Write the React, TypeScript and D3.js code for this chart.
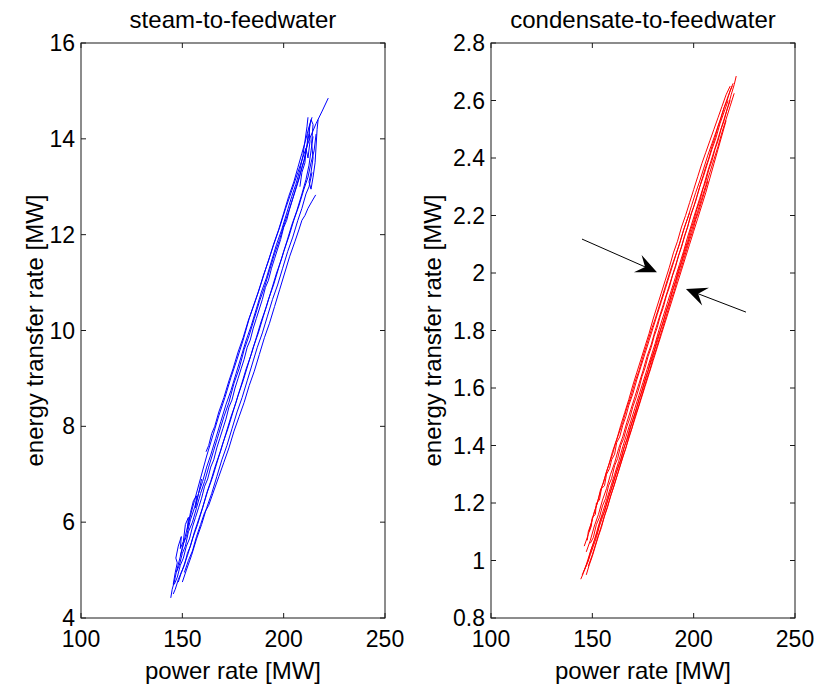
import React from "react";
import * as d3 from "d3";

type Pt = [number, number];

const xTicks = [100, 150, 200, 250];
const steamYTicks = [4, 6, 8, 10, 12, 14, 16];
const condYTicks = [0.8, 1, 1.2, 1.4, 1.6, 1.8, 2, 2.2, 2.4, 2.6, 2.8];

const steamTitle = "steam-to-feedwater";
const condTitle = "condensate-to-feedwater";
const xLabel = "power rate [MW]";
const yLabel = "energy transfer rate [MW]";

// steam-to-feedwater traces: [power MW, energy MW]
const steamTraces: Pt[][] = [
  [[147,4.95],[150,5.45],[153,5.98],[156,6.45],[159,6.92],[162,7.38],[165,7.8],[168,8.22],[171,8.6],[174,9.02],[177,9.4],[180,9.8],[183,10.25],[186,10.62],[189,11.0],[192,11.4],[195,11.78],[198,12.15],[201,12.55],[204,12.92],[207,13.3],[210,13.68],[213,14.02],[216,14.32],[219,14.58],[222,14.85]],
  [[161.7,7.47],[163,7.6],[164.5,7.85],[166,8.0],[168,8.3],[170.5,8.6],[173,8.95],[175,9.2],[177.5,9.55],[180,9.85],[182.5,10.2],[185,10.5],[187.5,10.8],[190,11.15],[192.5,11.45],[195,11.8],[197.5,12.1],[200,12.45],[202.5,12.8],[205,13.1],[207,13.4],[209,13.7],[211,14.0],[212.5,14.25],[214,14.45]],
  [[144.3,4.42],[145,4.6],[146,4.75],[147,4.95],[148.5,5.1],[150,5.35],[151.5,5.5],[153,5.8],[155,6.0],[157,6.3],[159,6.6],[161,6.85],[163,7.15],[165.5,7.5],[168,7.85],[170.5,8.2],[173,8.5],[175.5,8.9],[178,9.2],[180.5,9.6],[183,9.9],[185.5,10.25],[188,10.6],[190.5,10.9],[193,11.25],[195.5,11.6],[198,11.9],[200.5,12.25],[203,12.55],[205.5,12.9],[208,13.25],[210,13.55],[211.5,13.85],[212.5,14.1],[213,14.3]],
  [[148,4.75],[149.5,4.95],[151,5.1],[152.5,5.35],[154,5.5],[156,5.8],[158,6.05],[160,6.3],[162,6.6],[164,6.85],[166.5,7.2],[169,7.5],[171.5,7.85],[174,8.2],[176.5,8.5],[179,8.85],[181.5,9.2],[184,9.5],[186.5,9.85],[189,10.2],[191.5,10.5],[194,10.85],[196.5,11.2],[199,11.5],[201.5,11.85],[204,12.2],[206.5,12.5],[209,12.85],[211,13.15],[212.5,13.45],[213.5,13.75],[214.5,14.05]],
  [[151,4.95],[153,5.2],[155,5.4],[157,5.7],[159,5.95],[161,6.2],[163,6.35],[165.5,6.65],[168,6.95],[170.5,7.25],[173,7.55],[175.5,7.9],[178,8.2],[180.5,8.5],[183,8.85],[185.5,9.15],[188,9.5],[190.5,9.85],[193,10.15],[195.5,10.5],[198,10.85],[200.5,11.2],[203,11.55],[205.5,11.85],[207.5,12.1],[209,12.3],[210.5,12.4],[212,12.55],[214,12.7],[215.8,12.83]],
  [[216,14.1],[215,13.75],[213.5,13.5],[212,13.2],[210,12.95],[207.5,12.6],[205,12.3],[202.5,11.95],[200,11.65],[197.5,11.3],[195,10.95],[192.5,10.65],[190,10.3],[187.5,9.95],[185,9.65],[182.5,9.3],[180,8.95],[177.5,8.65],[175,8.3],[172.5,7.95],[170,7.65],[167.5,7.3],[165,6.95],[162.5,6.65],[160,6.3],[157.5,5.95],[155,5.65],[152.5,5.3],[150,5.0],[148,4.8],[146.5,4.6],[145.5,4.5]],
  [[149,5.3],[150.5,5.55],[152,5.7],[154,6.05],[156,6.3],[158,6.6],[160,6.85],[162,7.15],[164,7.4],[166.5,7.75],[169,8.1],[171.5,8.45],[174,8.75],[176.5,9.1],[179,9.45],[181.5,9.8],[184,10.1],[186.5,10.45],[189,10.8],[191.5,11.1],[194,11.45],[196.5,11.8],[199,12.1],[201.5,12.45],[204,12.8],[206,13.05],[208,13.35],[209.5,13.65],[210.5,13.95],[211.5,14.25],[212,14.45]],
  [[214,13.3],[212.5,13.0],[211,12.85],[209,12.55],[207,12.3],[204.5,11.95],[202,11.65],[199.5,11.3],[197,10.95],[194.5,10.65],[192,10.3],[189.5,9.95],[187,9.65],[184.5,9.3],[182,8.95],[179.5,8.6],[177,8.3],[174.5,7.95],[172,7.6],[169.5,7.3],[167,6.95],[164.5,6.6],[162,6.3],[159.5,5.95],[157,5.65],[154.5,5.3],[152,5.0],[150,4.75]],
  [[208,13.0],[209,13.3],[210.5,13.5],[211,13.8],[212,13.6],[213,13.95],[212.5,14.2],[213.5,14.4],[214.5,14.3],[213.8,13.9],[214.5,13.6],[213.5,13.3],[212.5,13.1],[213.5,12.95],[214.5,13.2],[215.5,13.5],[216,13.85],[216.5,14.2],[217,14.4]],
  [[145.5,4.7],[146.5,4.95],[147.5,5.15],[146.8,5.25],[148,5.5],[149.5,5.7],[149,5.45],[150.5,5.6],[151.5,5.95],[153,6.1],[152.5,5.85],[154,6.2],[155.5,6.45],[157,6.55],[156.5,6.3],[158,6.6],[159.5,6.9]],
  [[146,4.7],[147.5,4.85],[149,5.1],[150.5,5.25],[152,5.5],[153.5,5.65],[155,5.9],[156.5,6.1],[158,6.3],[159.5,6.5],[161,6.75],[162.5,6.9],[164,7.15],[165.5,7.3],[167,7.55],[168.5,7.75],[170,7.95],[171.5,8.15],[173,8.4],[174.5,8.55],[176,8.8],[177.5,9.0],[179,9.2],[180.5,9.4],[182,9.65],[183.5,9.8],[185,10.05],[186.5,10.25],[188,10.45],[189.5,10.65],[191,10.9],[192.5,11.05],[194,11.3],[195.5,11.5],[197,11.7],[198.5,11.9],[200,12.15],[201.5,12.3],[203,12.55],[204.5,12.75],[206,12.95],[207.5,13.15],[209,13.4],[210.5,13.6],[211.5,13.85],[212,14.1]]
];

// condensate-to-feedwater traces: [power MW, energy MW]
const condTraces: Pt[][] = [
  [[146,1.05],[148,1.09],[150,1.145],[152,1.19],[154,1.24],[156,1.285],[158,1.33],[160,1.38],[162,1.42],[164,1.47],[166,1.515],[168,1.56],[170,1.61],[172,1.655],[174,1.7],[176,1.745],[178,1.79],[180,1.84],[182,1.885],[184,1.93],[186,1.975],[188,2.02],[190,2.07],[192,2.11],[194,2.16],[196,2.2],[198,2.245],[200,2.29],[202,2.335],[204,2.38],[206,2.42],[208,2.46],[210,2.5],[212,2.54],[214,2.58],[216,2.62],[218,2.65]],
  [[147,1.03],[149,1.07],[151,1.12],[153,1.16],[155,1.21],[157,1.25],[159,1.3],[161,1.34],[163,1.39],[165,1.43],[167,1.48],[169,1.525],[171,1.57],[173,1.615],[175,1.66],[177,1.71],[179,1.75],[181,1.8],[183,1.845],[185,1.89],[187,1.935],[189,1.98],[191,2.025],[193,2.07],[195,2.115],[197,2.16],[199,2.21],[201,2.25],[203,2.3],[205,2.34],[207,2.385],[209,2.43],[211,2.47],[213,2.52],[215,2.56],[217,2.6]],
  [[221,2.685],[220,2.655],[218.5,2.62],[217,2.58],[215,2.535],[213,2.49],[211,2.445],[209,2.4],[207,2.355],[205,2.305],[203,2.26],[201,2.215],[199,2.17],[197,2.125],[195,2.075],[193,2.03],[191,1.985],[189,1.94],[187,1.895],[185,1.85],[183,1.805],[181,1.755],[179,1.71],[177,1.665],[175,1.62],[173,1.575],[171,1.53],[169,1.485],[167,1.44],[165,1.395],[163,1.345],[161,1.3],[159,1.255],[157,1.21],[155,1.165],[153,1.12],[151,1.07],[149,1.03],[147,0.985],[145.5,0.955],[144.3,0.935]],
  [[148,0.98],[150,1.02],[152,1.065],[154,1.11],[156,1.155],[158,1.2],[160,1.245],[162,1.29],[164,1.335],[166,1.38],[168,1.425],[170,1.47],[172,1.515],[174,1.56],[176,1.605],[178,1.65],[180,1.695],[182,1.74],[184,1.785],[186,1.83],[188,1.875],[190,1.92],[192,1.965],[194,2.01],[196,2.055],[198,2.1],[200,2.145],[202,2.19],[204,2.235],[206,2.28],[208,2.33],[210,2.38],[212,2.43],[214,2.48],[216,2.53]],
  [[147.5,1.07],[148,1.1],[149.5,1.13],[151,1.17],[152.5,1.2],[154,1.245],[155.5,1.27],[157,1.31],[158.5,1.34],[160,1.37],[161.5,1.41],[163,1.44],[165,1.48],[167,1.53],[169,1.57],[171,1.62],[173,1.66],[175,1.71],[177,1.755],[179,1.8],[181,1.84],[183,1.885],[185,1.93],[187,1.975],[189,2.02],[191,2.06],[193,2.1],[195,2.15],[197,2.19],[199,2.235],[201,2.28],[203,2.32],[205,2.365],[207,2.41],[209,2.45],[211,2.49],[213,2.53],[215,2.575],[217,2.615],[219,2.65]],
  [[145,0.95],[146.5,0.975],[148,1.0],[149.5,1.04],[151,1.07],[152.5,1.1],[154,1.14],[156,1.17],[158,1.22],[160,1.265],[162,1.31],[164,1.35],[166,1.4],[168,1.44],[170,1.49],[172,1.535],[174,1.58],[176,1.625],[178,1.67],[180,1.715],[182,1.76],[184,1.81],[186,1.855],[188,1.9],[190,1.945],[192,1.99],[194,2.035],[196,2.08],[198,2.125],[200,2.17],[202,2.215],[204,2.26],[206,2.305],[208,2.35],[210,2.395],[212,2.44],[214,2.49],[216,2.535],[218,2.58],[220,2.625]],
  [[149,1.06],[150.5,1.08],[152,1.125],[153.5,1.15],[155,1.19],[156.5,1.215],[158,1.26],[159.5,1.285],[161,1.33],[162.5,1.355],[164,1.4],[165.5,1.425],[167,1.465],[168.5,1.495],[170,1.535],[171.5,1.565],[173,1.6],[174.5,1.64],[176,1.67],[177.5,1.71],[179,1.74],[180.5,1.78],[182,1.81],[183.5,1.85],[185,1.88],[186.5,1.92],[188,1.95],[189.5,1.99],[191,2.02],[192.5,2.06],[194,2.09],[195.5,2.13],[197,2.16],[198.5,2.2],[200,2.23],[201.5,2.265],[203,2.3],[204.5,2.335],[206,2.37],[207.5,2.4],[209,2.44],[210.5,2.47],[212,2.51],[213.5,2.54],[215,2.575],[216.5,2.6],[218,2.635],[219.5,2.66]],
  [[218,2.6],[216.5,2.57],[215,2.53],[213.5,2.5],[212,2.46],[210.5,2.43],[209,2.39],[207.5,2.36],[206,2.32],[204.5,2.29],[203,2.25],[201.5,2.22],[200,2.18],[198.5,2.15],[197,2.11],[195.5,2.08],[194,2.04],[192.5,2.01],[191,1.97],[189.5,1.94],[188,1.9],[186.5,1.87],[185,1.83],[183.5,1.8],[182,1.77],[180.5,1.73],[179,1.7],[177.5,1.66],[176,1.63],[174.5,1.59],[173,1.56],[171.5,1.52],[170,1.49],[168.5,1.46],[167,1.42],[165.5,1.39],[164,1.35],[162.5,1.32],[161,1.285],[159.5,1.25],[158,1.22],[156.5,1.185],[155,1.15],[153.5,1.12],[152,1.08],[150.5,1.05],[149,1.02],[147.5,0.99],[146,0.965]],
  [[148.5,1.1],[149.5,1.12],[150,1.15],[151.5,1.16],[152,1.2],[153.5,1.21],[154.5,1.25],[156,1.26],[157,1.3],[158.5,1.32],[159.5,1.35],[161,1.37],[162,1.41],[163.5,1.43],[165,1.47],[166.5,1.5],[168,1.54],[170,1.58],[172,1.63],[174,1.675],[176,1.72],[178,1.765],[180,1.81],[182,1.855],[184,1.9],[186,1.945],[188,1.99],[190,2.035],[192,2.08],[194,2.125],[196,2.17],[198,2.21]],
  [[147,0.95],[148.5,0.985],[150,1.015],[151.5,1.05],[153,1.085],[154.5,1.115],[156,1.155],[157.5,1.185],[159,1.225],[160.5,1.255],[162,1.29],[163.5,1.325],[165,1.36],[166.5,1.39],[168,1.43],[169.5,1.46],[171,1.5],[172.5,1.53],[174,1.565],[175.5,1.6],[177,1.635],[178.5,1.665],[180,1.705],[181.5,1.735],[183,1.77],[184.5,1.805],[186,1.84],[187.5,1.875],[189,1.91],[190.5,1.94],[192,1.98],[193.5,2.01],[195,2.045],[196.5,2.08],[198,2.115],[199.5,2.145],[201,2.185],[202.5,2.215],[204,2.25],[205.5,2.285],[207,2.32]]
];

// annotation arrows on the condensate panel (data units)
const condArrows: { from: Pt; to: Pt }[] = [
  { from: [144.9, 2.118], to: [181.9, 2.003] },
  { from: [225.8, 1.864], to: [196.2, 1.944] }
];

const FONT = "'Liberation Sans', Arial, Helvetica, sans-serif";
const TOP = 43;
const BOTTOM = 618;
const TICK = 5;
const AXIS = "#1a1a1a";
const TICK_FS = 23;
const LABEL_FS = 24;

const fmt = (v: number) => String(+v.toFixed(1));

function Panel(props: {
  x0: number; x1: number; yDomain: [number, number]; yTicks: number[];
  traces: Pt[][]; color: string; title: string; arrows?: { from: Pt; to: Pt }[];
  yLabelX: number;
}) {
  const { x0, x1, yDomain, yTicks, traces, color, title, arrows, yLabelX } = props;
  const x = d3.scaleLinear().domain([100, 250]).range([x0, x1]);
  const y = d3.scaleLinear().domain(yDomain).range([BOTTOM, TOP]);
  const line = d3.line<Pt>().x((d) => x(d[0])).y((d) => y(d[1]));
  const cx = (x0 + x1) / 2;
  const cy = (TOP + BOTTOM) / 2;
  return (
    <g>
      {traces.map((t, i) => (
        <path key={i} d={line(t) || ""} fill="none" stroke={color} strokeWidth={1} strokeLinejoin="round" />
      ))}
      <rect x={x0} y={TOP} width={x1 - x0} height={BOTTOM - TOP} fill="none" stroke={AXIS} strokeWidth={1} />
      {xTicks.map((t) => (
        <g key={"x" + t}>
          <line x1={x(t)} x2={x(t)} y1={BOTTOM} y2={BOTTOM - TICK} stroke={AXIS} />
          <line x1={x(t)} x2={x(t)} y1={TOP} y2={TOP + TICK} stroke={AXIS} />
          <text x={x(t)} y={639} textAnchor="middle" dominantBaseline="central" fontSize={TICK_FS} fontFamily={FONT} fill="#000">{t}</text>
        </g>
      ))}
      {yTicks.map((t) => (
        <g key={"y" + t}>
          <line x1={x0} x2={x0 + TICK} y1={y(t)} y2={y(t)} stroke={AXIS} />
          <line x1={x1} x2={x1 - TICK} y1={y(t)} y2={y(t)} stroke={AXIS} />
          <text x={x0 - 6} y={y(t)} textAnchor="end" dominantBaseline="central" fontSize={TICK_FS} fontFamily={FONT} fill="#000">{fmt(t)}</text>
        </g>
      ))}
      <text x={cx} y={19} textAnchor="middle" dominantBaseline="central" fontSize={LABEL_FS} fontFamily={FONT} fill="#000">{title}</text>
      <text x={cx} y={670} textAnchor="middle" dominantBaseline="central" fontSize={LABEL_FS} fontFamily={FONT} fill="#000">{xLabel}</text>
      <text transform={`translate(${yLabelX},${cy}) rotate(-90)`} textAnchor="middle" dominantBaseline="central" fontSize={LABEL_FS} fontFamily={FONT} fill="#000">{yLabel}</text>
      {(arrows || []).map((a, i) => {
        const sx = x(a.from[0]), sy = y(a.from[1]);
        const tx = x(a.to[0]), ty = y(a.to[1]);
        const len = Math.hypot(tx - sx, ty - sy);
        const ux = (tx - sx) / len, uy = (ty - sy) / len;
        const nx = -uy, ny = ux;
        const L = 21, hw = 9.5, notch = 0.62 * L;
        const pts: Pt[] = [
          [tx, ty],
          [tx - L * ux + hw * nx, ty - L * uy + hw * ny],
          [tx - notch * ux, ty - notch * uy],
          [tx - L * ux - hw * nx, ty - L * uy - hw * ny]
        ];
        return (
          <g key={"a" + i}>
            <line x1={sx} y1={sy} x2={tx - notch * ux} y2={ty - notch * uy} stroke="#000" strokeWidth={1} />
            <polygon points={pts.map((p) => p.join(",")).join(" ")} fill="#000" />
          </g>
        );
      })}
    </g>
  );
}

export default function App() {
  return (
    <svg width={817} height={689} style={{ position: "absolute", left: 0, top: 0, background: "#fff" }}>
      <rect width={817} height={689} fill="#fff" />
      <Panel x0={81} x1={385} yDomain={[4, 16]} yTicks={steamYTicks} traces={steamTraces} color="#0000ff" title={steamTitle} yLabelX={34} />
      <Panel x0={491} x1={795} yDomain={[0.8, 2.8]} yTicks={condYTicks} traces={condTraces} color="#ff0000" title={condTitle} arrows={condArrows} yLabelX={432} />
    </svg>
  );
}
